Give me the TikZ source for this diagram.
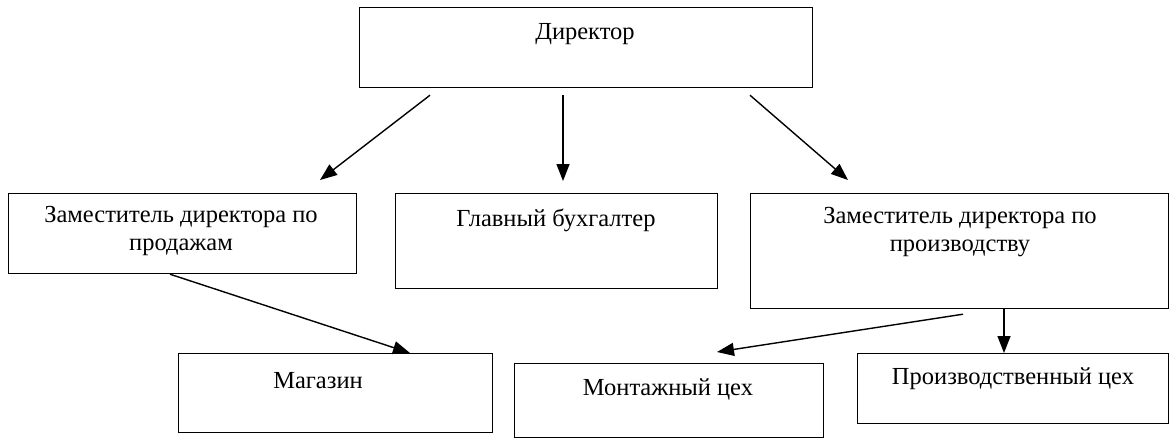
\documentclass[tikz,border=0pt]{standalone}
\usepackage{fontspec}
\setmainfont{Liberation Serif}
\usetikzlibrary{arrows.meta,calc}
\tikzset{
  box/.style={draw, line width=1.2pt, inner sep=0pt, anchor=north west},
  lbl/.style={font=\fontsize{24.5}{28}\selectfont, align=center, inner sep=0pt},
  arr/.style={line width=1.4pt, -{Triangle[length=17pt,width=13pt]}}
}
\begin{document}
\begin{tikzpicture}[x=1pt,y=-1pt]
\useasboundingbox (0,0) rectangle (1173,437);
% boxes
\node[box, minimum width=453pt, minimum height=80pt] (dir) at (359,7) {};
\node[box, minimum width=348pt, minimum height=80pt] (zpr) at (8,193) {};
\node[box, minimum width=322pt, minimum height=95pt] (gb) at (395,193) {};
\node[box, minimum width=418pt, minimum height=115pt] (zpv) at (750,193) {};
\node[box, minimum width=314pt, minimum height=79pt] (mag) at (178,353) {};
\node[box, minimum width=309pt, minimum height=74pt] (mon) at (514,363) {};
\node[box, minimum width=311pt, minimum height=70pt] (pc) at (857,353) {};
% labels
\node[lbl] (tdir) at (585,34) {Директор};
\node[lbl] (tzpr) at (181,231) {Заместитель директора по\\продажам};
\node[lbl] (tgb) at (556,220) {Главный бухгалтер};
\node[lbl] (tzpv) at (960,232) {Заместитель директора по\\производству};
\node[lbl] (tmag) at (318,381) {Магазин};
\node[lbl] (tmon) at (668,389) {Монтажный цех};
\node[lbl] (tpc) at (1013,379) {Производственный цех};
% connector end points
\coordinate (d1) at ($(dir.south west)+(71,7)$);
\coordinate (d2) at ($(dir.south west)+(204,7)$);
\coordinate (d3) at ($(dir.south west)+(391,7)$);
\coordinate (e1) at (320,180);
\coordinate (e2) at (563,181);
\coordinate (e3) at (848,180);
\coordinate (z1) at ($(zpr.south west)+(162,0)$);
\coordinate (m1) at (410,353);
\coordinate (v1) at ($(zpv.south west)+(213,5)$);
\coordinate (m2) at (717,352);
\coordinate (v2) at ($(zpv.south west)+(254,0)$);
\coordinate (p2) at ($(pc.north west)+(147,0)$);
% connectors
\draw[arr] (d1) -- (e1);
\draw[arr] (d2) -- (e2);
\draw[arr] (d3) -- (e3);
\draw[arr] (z1) -- (m1);
\draw[arr] (v1) -- (m2);
\draw[arr] (v2) -- (p2);
\end{tikzpicture}
\end{document}
